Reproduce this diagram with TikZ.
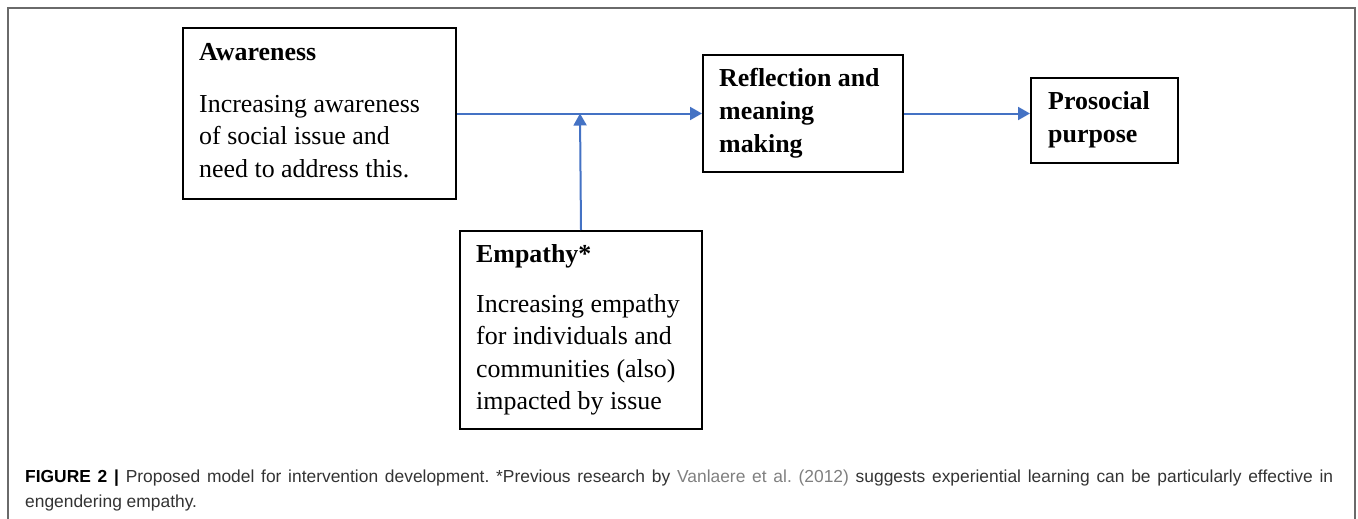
\documentclass[tikz,border=0pt]{standalone}
\usepackage{fontspec}
\setmainfont{Liberation Serif}
\setsansfont{Liberation Sans}
\usetikzlibrary{arrows.meta}
\definecolor{arrblue}{HTML}{4472C4}
\definecolor{framegray}{HTML}{6A6A6A}
\definecolor{captext}{HTML}{333333}
\definecolor{linkgray}{HTML}{7F7F7F}
\frenchspacing
\tikzset{
  box/.style={draw=black, line width=2pt, inner sep=0pt, anchor=north west},
  txt/.style={inner sep=0pt, anchor=base west, font=\fontsize{25.9}{32.5}\selectfont},
  hd/.style={txt, font=\fontsize{25.9}{32.5}\selectfont\bfseries},
  captxt/.style={inner sep=0pt, anchor=base west, font=\sffamily\fontsize{17.4}{25}\selectfont, text=captext},
  arr/.style={draw=arrblue, line width=2pt, -{Triangle[length=12pt,width=13pt]}},
}
\begin{document}
\begin{tikzpicture}[x=1pt,y=-1pt]
\useasboundingbox (0,0) rectangle (1358,519);
% outer frame
\draw[framegray, line width=1.5pt] (8,519) -- (8,8) -- (1355,8) -- (1355,519);
% boxes
\node[box, minimum width=273pt, minimum height=171pt] (aw) at (182,27) {};
\node[box, minimum width=242pt, minimum height=198pt] (emp) at (459,230) {};
\node[box, minimum width=200pt, minimum height=117pt] (refl) at (702,54) {};
\node[box, minimum width=147pt, minimum height=85pt] (pro) at (1030,77) {};
% texts
\node[hd] (awh) at (199,60) {Awareness};
\node[txt] (aw1) at (199,112) {Increasing awareness};
\node[txt] (aw2) at (199,144.5) {of social issue and};
\node[txt] (aw3) at (199,177) {need to address this.};
\node[hd] (emh) at (476,262) {Empathy*};
\node[txt] (em1) at (476,312) {Increasing empathy};
\node[txt] (em2) at (476,344.5) {for individuals and};
\node[txt] (em3) at (476,377) {communities (also)};
\node[txt] (em4) at (476,409.5) {impacted by issue};
\node[hd] (rf1) at (719,87) {Reflection and};
\node[hd] (rf2) at (719,119.5) {meaning};
\node[hd] (rf3) at (719,152) {making};
\node[hd] (pr1) at (1048,110) {Prosocial};
\node[hd] (pr2) at (1048,142.5) {purpose};
% connectors
\coordinate (j) at (580,113.5);
\draw[arr] (aw.east |- j) -- (refl.west |- j);
\draw[arr] (emp.north) -- (j);
\draw[arr] (refl.east |- j) -- (pro.west |- j);
% caption
\node[captxt] (cap1) at (25,482) {\makebox[1308pt][s]{\textbf{\color{black}FIGURE 2 |} Proposed model for intervention development. *Previous research by {\color{linkgray}Vanlaere et al. (2012)} suggests experiential learning can be particularly effective in}};
\node[captxt] (cap2) at (25,507) {engendering empathy.};
\end{tikzpicture}
\end{document}
